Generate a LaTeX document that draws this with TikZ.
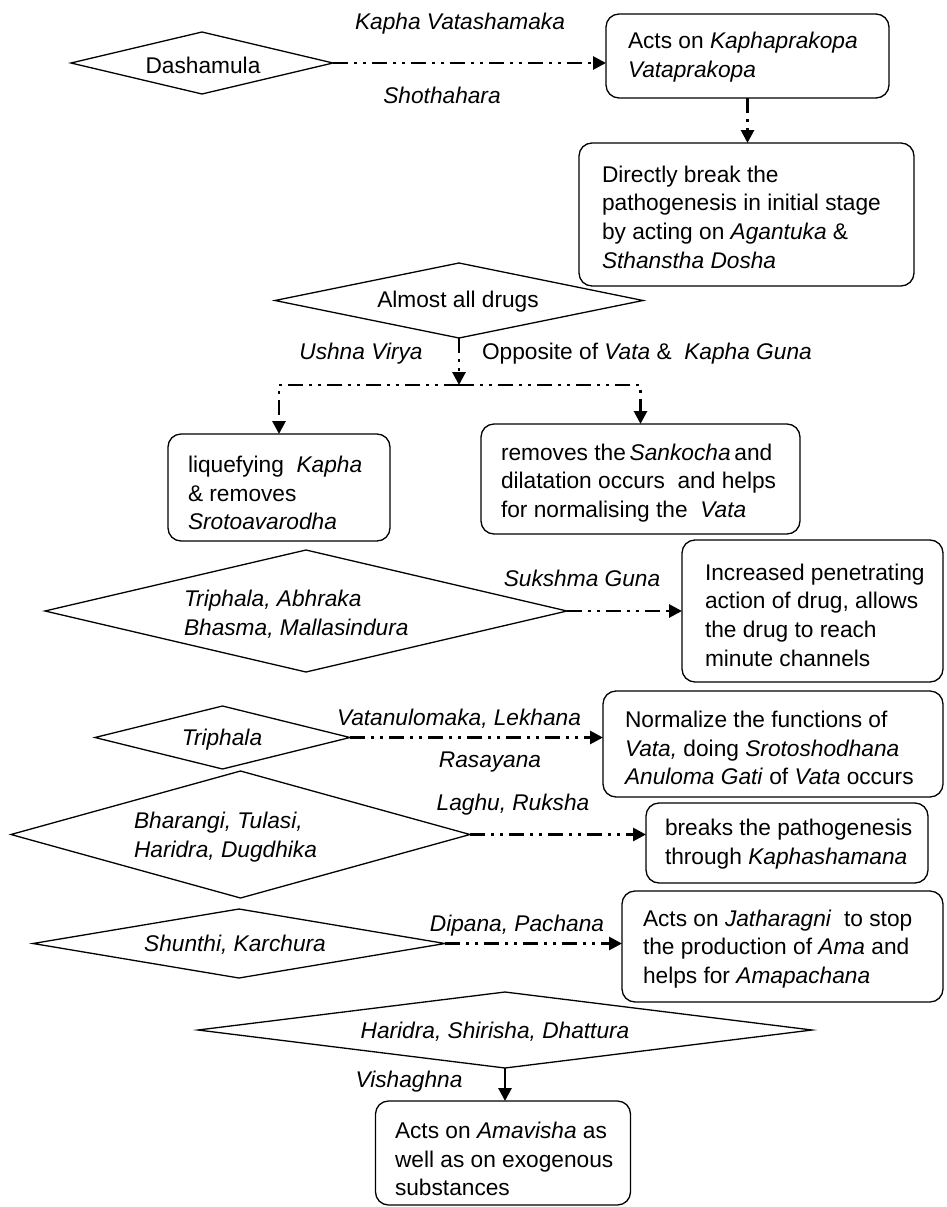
\documentclass[tikz,border=0pt]{standalone}
\usepackage{fontspec}
\setmainfont{Liberation Sans}
\usetikzlibrary{shapes.geometric,arrows.meta}
\tikzset{
  dmd/.style={draw, shape=diamond, line width=1.3pt, inner sep=0pt, outer sep=0pt},
  rbox/.style={draw, rectangle, rounded corners=13pt, line width=1.3pt, inner sep=0pt, outer sep=0pt},
  txt/.style={inner sep=0pt, outer sep=0pt, align=left, font=\fontsize{22.7}{28.6}\selectfont},
  conn/.style={line width=2.8pt, dash pattern=on 15pt off 6pt on 3pt off 6pt on 3pt off 6pt,
     -{Triangle[length=13pt,width=13pt]}},
  plain/.style={line width=2.8pt, dash pattern=on 15pt off 6pt on 3pt off 6pt on 3pt off 6pt},
  solidarr/.style={line width=2.8pt, -{Triangle[length=13pt,width=13pt]}}
}
\begin{document}
\begin{tikzpicture}[x=1pt,y=-1pt]
\useasboundingbox (0,0) rectangle (946,1207);
% diamonds
\node[dmd, minimum width=262pt, minimum height=62pt] (dA) at (202,63) {};
\node[dmd, minimum width=368pt, minimum height=75pt] (dB) at (459,300.5) {};
\node[dmd, minimum width=522pt, minimum height=122pt] (dC) at (306,611) {};
\node[dmd, minimum width=255pt, minimum height=63pt] (dD) at (222.5,737.5) {};
\node[dmd, minimum width=459pt, minimum height=127pt] (dE) at (240.5,834.5) {};
\node[dmd, minimum width=412pt, minimum height=69pt] (dF) at (239,943.5) {};
\node[dmd, minimum width=614pt, minimum height=76pt] (dG) at (505,1030) {};
% boxes
\node[rbox, minimum width=283pt, minimum height=84pt] (b1) at (747.5,56) {};
\node[rbox, minimum width=335pt, minimum height=143pt] (b2) at (746.5,214.5) {};
\node[rbox, minimum width=222pt, minimum height=107pt] (b3) at (279,487.5) {};
\node[rbox, minimum width=319pt, minimum height=110pt] (b4) at (640.5,479) {};
\node[rbox, minimum width=261pt, minimum height=142pt] (b5) at (812.5,611) {};
\node[rbox, minimum width=340pt, minimum height=106pt] (b6) at (773,744) {};
\node[rbox, minimum width=282pt, minimum height=80pt] (b7) at (787,843) {};
\node[rbox, minimum width=321pt, minimum height=111pt] (b8) at (782.5,946.5) {};
\node[rbox, minimum width=255pt, minimum height=104pt] (b9) at (503,1153) {};
% diamond texts
\node[txt] (tA) at (203,65) {Dashamula};
\node[txt] (tB) at (458,302) {Almost all drugs};
\node[txt, anchor=west] (tC) at (184,614) {\textit{Triphala, Abhraka}\\\textit{Bhasma, Mallasindura}};
\node[txt] (tD) at (222,740) {\textit{Triphala}};
\node[txt, anchor=west] (tE) at (134,837) {\textit{Bharangi, Tulasi,}\\\textit{Haridra, Dugdhika}};
\node[txt] (tF) at (235,945) {\textit{Shunthi, Karchura}};
\node[txt] (tG) at (495,1032) {\textit{Haridra, Shirisha, Dhattura}};
% box texts
\node[txt, anchor=west] (s1) at (628,57) {Acts on \textit{Kaphaprakopa}\\\textit{Vataprakopa}};
\node[txt, anchor=west] (s2) at (602,217) {Directly break the\\pathogenesis in initial stage\\by acting on \textit{Agantuka} \&\\\textit{Sthanstha Dosha}};
\node[txt, anchor=west] (s3) at (188,493) {liquefying \ \textit{Kapha}\\\& removes\\\textit{Srotoavarodha}};
\node[txt, anchor=west] (s4) at (501,483) {removes the\,\textit{Sankocha}\,and\\dilatation occurs \ and helps\\for normalising the \ \textit{Vata}};
\node[txt, anchor=west] (s5) at (705,615) {Increased penetrating\\action of drug, allows\\the drug to reach\\minute channels};
\node[txt, anchor=west] (s6) at (625,748) {Normalize the functions of\\\textit{Vata,} doing \textit{Srotoshodhana}\\\textit{Anuloma Gati} of \textit{Vata} occurs};
\node[txt, anchor=west] (s7) at (665,844) {breaks the pathogenesis\\through \textit{Kaphashamana}};
\node[txt, anchor=west] (s8) at (643,949) {Acts on \textit{Jatharagni} \ to stop\\the production of \textit{Ama} and\\helps for \textit{Amapachana}};
\node[txt, anchor=west] (s9) at (395,1159) {Acts on \textit{Amavisha} as\\well as on exogenous\\substances};
% connector labels
\node[txt] (lA1) at (460,24) {\textit{Kapha Vatashamaka}};
\node[txt] (lA2) at (442,95) {\textit{Shothahara}};
\node[txt] (lB1) at (361,354) {\textit{Ushna Virya}};
\node[txt, anchor=west] (lB2) at (482,354) {Opposite of \textit{Vata} \& \ \textit{Kapha Guna}};
\node[txt] (lC) at (582,578) {\textit{Sukshma Guna}};
\node[txt] (lD1) at (459,719) {\textit{Vatanulomaka, Lekhana}};
\node[txt] (lD2) at (490,762) {\textit{Rasayana}};
\node[txt] (lE) at (513,805) {\textit{Laghu, Ruksha}};
\node[txt] (lF) at (517,926) {\textit{Dipana, Pachana}};
\node[txt] (lG) at (409,1082) {\textit{Vishaghna}};
% connectors
\coordinate (j) at (459,385);
\draw[conn] (dA.east) -- (dA.east -| b1.west);
\draw[conn] (b1.south) -- (b1.south |- b2.north);
\draw[conn] (dB.south) -- (j);
\draw[conn] (j) -| (b3.north);
\draw[conn] (j) -| (b4.north);
\draw[conn] (dC.east) -- (dC.east -| b5.west);
\draw[conn] (dD.east) -- (dD.east -| b6.west);
\draw[conn] (dE.east) -- (dE.east -| b7.west);
\draw[conn] (dF.east) -- (dF.east -| b8.west);
\draw[solidarr] (dG.south) -- (dG.south |- b9.north);
\end{tikzpicture}
\end{document}
